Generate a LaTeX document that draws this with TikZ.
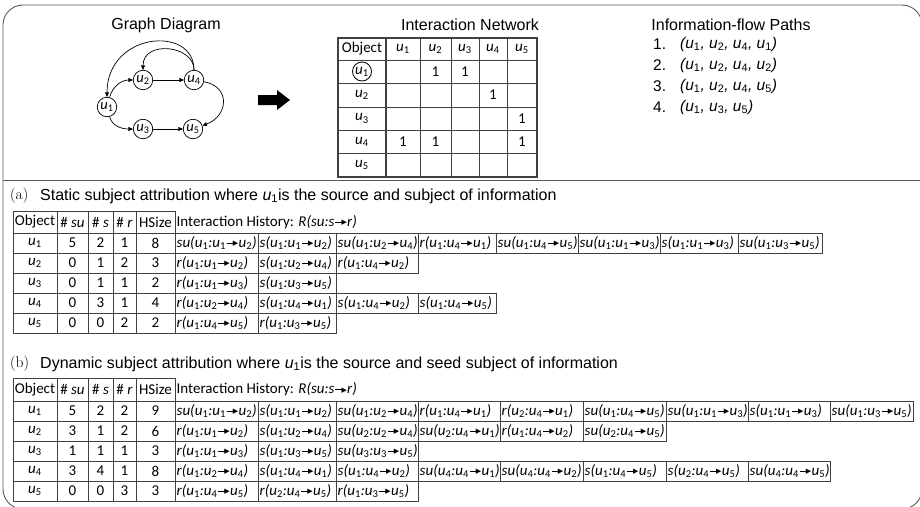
\documentclass[tikz,border=0pt]{standalone}
\usepackage{fontspec}
\newfontfamily\arialf{Liberation Sans}
\newfontfamily\calf{Carlito}
\newfontfamily\djv{DejaVu Sans}
\usetikzlibrary{arrows.meta,calc}

% small solid arrow used inside the history entries
\newcommand\rarr{\kern0.8pt\raisebox{3.4pt}{\rule{7.5pt}{1.2pt}}\kern-1.3pt\raisebox{1.5pt}{\djv\fontsize{7}{7}\selectfont ▶}\kern0.3pt}
% u with an upright subscript
\newcommand\su[1]{u\textsubscript{\upshape #1}}
% one history entry: role(u_a:u_b -> u_c)
\newcommand\hc[4]{#1(\su{#2}:\su{#3}\rarr\su{#4})}

% column edges of the history cells
\def\ax{{175,258,336,418,496,578,660,738,822}}
\def\bx{{175,258,336,418,500,583,666,748,830,913}}

% one row of boxed history entries: #1 edges, #2 top y, #3 name prefix, #4 entries
\newcommand\histrow[4]{%
  \foreach \t [count=\i] in {#4} {
    \pgfmathtruncatemacro\xa{#1[\i-1]}
    \pgfmathtruncatemacro\xb{#1[\i]}
    \draw[grid] (\xa,-#2) rectangle (\xb,-#2-20);
    \node[cell] (#3-\i) at (\xa,-#2-10) {\t};
  }}

\begin{document}
\begin{tikzpicture}[x=1pt,y=1pt,
  frame/.style={draw=black!65, line width=0.9pt},
  grid/.style={draw=black!75, line width=0.7pt},
  gridbold/.style={draw=black!75, line width=1.3pt},
  ttl/.style={font=\arialf\fontsize{16}{19}\selectfont, inner sep=0pt},
  pth/.style={font=\arialf\fontsize{15.5}{18}\selectfont, anchor=west, inner sep=0pt},
  cell/.style={font=\calf\itshape\fontsize{15}{17}\selectfont, anchor=west, inner sep=1.5pt},
  ctr/.style={font=\calf\fontsize{15}{17}\selectfont, inner sep=0pt},
  gnode/.style={circle, draw=black, line width=0.7pt, minimum size=19.5pt, inner sep=0pt,
    font=\calf\itshape\fontsize{14.5}{14.5}\selectfont},
  garr/.style={-{Triangle[length=4.5pt,width=4pt]}, line width=0.7pt},
]
\useasboundingbox (0,-506) rectangle (920,0);
\clip (0,-506) rectangle (920,0);

% outer frame and separator
\draw[frame, rounded corners=20pt] (3,-5) rectangle (922,-509);
\draw[frame] (3,-180) -- (922,-180);

% ---------- graph diagram ----------
\node[ttl] (tg) at (166,-25) {Graph Diagram};
\node[gnode] (g1) at (107,-107) {\su1};
\node[gnode] (g2) at (143,-80) {\su2};
\node[gnode] (g4) at (194,-80) {\su4};
\node[gnode] (g3) at (143,-129) {\su3};
\node[gnode] (g5) at (193,-129) {\su5};
\draw[garr] (g1) to[out=75,in=180] (g2);
\draw[garr] (g1) to[out=-75,in=180] (g3);
\draw[garr] (g2) -- (g4);
\draw[garr] (g3) -- (g5);
\draw[garr] (g4) to[out=-10,in=20,looseness=1.6] (g5);
\draw[garr] (g4.north) .. controls ($(g4.north)+(0,45)$) and ($(g1.north)+(0,65)$) .. (g1.north);
\draw[garr] (g4.north) .. controls ($(g4.north)+(0,25)$) and ($(g2.north)+(0,30)$) .. (g2.north);

% block arrow
\fill (258,-95) -- (277,-95) -- (277,-90) -- (290,-100) -- (277,-110) -- (277,-105) -- (258,-105) -- cycle;

% ---------- interaction network ----------
\node[ttl] (tn) at (470,-25) {Interaction Network};
\foreach \x in {420,451,479,507} \draw[grid] (\x,-38) -- (\x,-177);
\foreach \y in {60,83,107,130,153} \draw[grid] (338,-\y) -- (537,-\y);
\draw[gridbold] (338,-38) rectangle (537,-177);
\draw[gridbold] (386,-38) -- (386,-177);
\node[ctr] (nh0) at (362,-49) {Object};
\foreach \c/\x in {1/403,2/435.5,3/465,4/493,5/522}
  \node[ctr] (nh\c) at (\x,-49) {\textit{\su{\c}}};
\node[ctr, circle, draw, line width=0.8pt, minimum size=19pt] (nr1) at (362,-71.5) {\textit{\su1}};
\foreach \r/\y in {2/95,3/118.5,4/141.5,5/165}
  \node[ctr] (nr\r) at (362,-\y) {\textit{\su{\r}}};
\foreach \r/\c/\x/\y in {1/2/435.5/71.5, 1/3/465/71.5, 2/4/493/95, 3/5/522/118.5,
                        4/1/403/141.5, 4/2/435.5/141.5, 4/5/522/141.5}
  \node[ctr] (nv\r\c) at (\x,-\y) {1};

% ---------- information-flow paths ----------
\node[ttl] (tp) at (731,-25) {Information-flow Paths};
\node[pth] (p1n) at (653,-44) {1.};
\node[pth] (p1) at (680,-44) {\itshape(\su1, \su2, \su4, \su1)};
\node[pth] (p2n) at (653,-65) {2.};
\node[pth] (p2) at (680,-65) {\itshape(\su1, \su2, \su4, \su2)};
\node[pth] (p3n) at (653,-86) {3.};
\node[pth] (p3) at (680,-86) {\itshape(\su1, \su2, \su4, \su5)};
\node[pth] (p4n) at (653,-107) {4.};
\node[pth] (p4) at (680,-107) {\itshape(\su1, \su3, \su5)};

% ---------- (a) static attribution ----------
\node[font=\fontsize{15.5}{18}\selectfont, anchor=west, inner sep=0pt] (la) at (10,-196) {(a)};
\node[ttl, anchor=west] (ta) at (40,-196) {Static subject attribution where \textit{u}\textsubscript{1}is the source and subject of information};
\foreach \x in {13,57,88,113,136,175} \draw[grid] (\x,-211) -- (\x,-333);
\foreach \y in {211,233,253,273,293,313,333} \draw[grid] (13,-\y) -- (175,-\y);
\node[ctr] (ah1) at (35,-222) {Object};
\node[ctr] (ah2) at (72.5,-222) {\# \textit{su}};
\node[ctr] (ah3) at (100.5,-222) {\# \textit{s}};
\node[ctr] (ah4) at (124.5,-222) {\# \textit{r}};
\node[ctr] (ah5) at (155.5,-222) {HSize};
\node[cell, font=\calf\fontsize{15}{17}\selectfont] (ah6) at (175,-222)
  {Interaction History: \textit{R(su:s\rarr r)}};
\foreach \o/\a/\b/\c/\d [count=\r] in {1/5/2/1/8, 2/0/1/2/3, 3/0/1/1/2, 4/0/3/1/4, 5/0/0/2/2} {
  \pgfmathsetmacro\yc{223+20*\r}
  \node[ctr] (a\r o) at (35,-\yc) {\textit{\su{\o}}};
  \node[ctr] (a\r a) at (72.5,-\yc) {\a};
  \node[ctr] (a\r b) at (100.5,-\yc) {\b};
  \node[ctr] (a\r c) at (124.5,-\yc) {\c};
  \node[ctr] (a\r d) at (155.5,-\yc) {\d};
}
\histrow{\ax}{233}{ar1}{\hc{su}{1}{1}{2}, \hc{s}{1}{1}{2}, \hc{su}{1}{2}{4}, \hc{r}{1}{4}{1},
  \hc{su}{1}{4}{5}, \hc{su}{1}{1}{3}, \hc{s}{1}{1}{3}, \hc{su}{1}{3}{5}}
\histrow{\ax}{253}{ar2}{\hc{r}{1}{1}{2}, \hc{s}{1}{2}{4}, \hc{r}{1}{4}{2}}
\histrow{\ax}{273}{ar3}{\hc{r}{1}{1}{3}, \hc{s}{1}{3}{5}}
\histrow{\ax}{293}{ar4}{\hc{r}{1}{2}{4}, \hc{s}{1}{4}{1}, \hc{s}{1}{4}{2}, \hc{s}{1}{4}{5}}
\histrow{\ax}{313}{ar5}{\hc{r}{1}{4}{5}, \hc{r}{1}{3}{5}}

% ---------- (b) dynamic attribution ----------
\node[font=\fontsize{15.5}{18}\selectfont, anchor=west, inner sep=0pt] (lb) at (10,-364) {(b)};
\node[ttl, anchor=west] (tb) at (40,-364) {Dynamic subject attribution where \textit{u}\textsubscript{1}is the source and seed subject of information};
\foreach \x in {13,57,88,113,136,175} \draw[grid] (\x,-378) -- (\x,-501);
\foreach \y in {378,401,421,441,461,481,501} \draw[grid] (13,-\y) -- (175,-\y);
\node[ctr] (bh1) at (35,-389.5) {Object};
\node[ctr] (bh2) at (72.5,-389.5) {\# \textit{su}};
\node[ctr] (bh3) at (100.5,-389.5) {\# \textit{s}};
\node[ctr] (bh4) at (124.5,-389.5) {\# \textit{r}};
\node[ctr] (bh5) at (155.5,-389.5) {HSize};
\node[cell, font=\calf\fontsize{15}{17}\selectfont] (bh6) at (175,-389.5)
  {Interaction History: \textit{R(su:s\rarr r)}};
\foreach \o/\a/\b/\c/\d [count=\r] in {1/5/2/2/9, 2/3/1/2/6, 3/1/1/1/3, 4/3/4/1/8, 5/0/0/3/3} {
  \pgfmathsetmacro\yc{391+20*\r}
  \node[ctr] (b\r o) at (35,-\yc) {\textit{\su{\o}}};
  \node[ctr] (b\r a) at (72.5,-\yc) {\a};
  \node[ctr] (b\r b) at (100.5,-\yc) {\b};
  \node[ctr] (b\r c) at (124.5,-\yc) {\c};
  \node[ctr] (b\r d) at (155.5,-\yc) {\d};
}
\histrow{\bx}{401}{br1}{\hc{su}{1}{1}{2}, \hc{s}{1}{1}{2}, \hc{su}{1}{2}{4}, \hc{r}{1}{4}{1},
  \hc{r}{2}{4}{1}, \hc{su}{1}{4}{5}, \hc{su}{1}{1}{3}, \hc{s}{1}{1}{3}, \hc{su}{1}{3}{5}}
\histrow{\bx}{421}{br2}{\hc{r}{1}{1}{2}, \hc{s}{1}{2}{4}, \hc{su}{2}{2}{4}, \hc{su}{2}{4}{1},
  \hc{r}{1}{4}{2}, \hc{su}{2}{4}{5}}
\histrow{\bx}{441}{br3}{\hc{r}{1}{1}{3}, \hc{s}{1}{3}{5}, \hc{su}{3}{3}{5}}
\histrow{\bx}{461}{br4}{\hc{r}{1}{2}{4}, \hc{s}{1}{4}{1}, \hc{s}{1}{4}{2}, \hc{su}{4}{4}{1},
  \hc{su}{4}{4}{2}, \hc{s}{1}{4}{5}, \hc{s}{2}{4}{5}, \hc{su}{4}{4}{5}}
\histrow{\bx}{481}{br5}{\hc{r}{1}{4}{5}, \hc{r}{2}{4}{5}, \hc{r}{1}{3}{5}}
\end{tikzpicture}
\end{document}
